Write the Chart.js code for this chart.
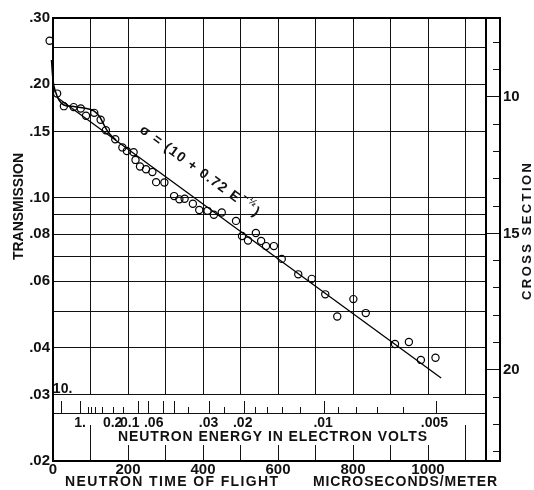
<!DOCTYPE html>
<html><head><meta charset="utf-8">
<script src="https://cdn.jsdelivr.net/npm/chart.js@4.4.1/dist/chart.umd.min.js"></script>
<style>html,body{margin:0;padding:0;background:#fff}</style>
</head><body>
<canvas id="c" width="534" height="490"></canvas>
<script>
// ---- data ----
const flightTime = [-9, 11, 29, 55, 74, 88, 110, 127, 141, 166, 185, 197, 215, 220, 232, 248, 265, 275, 297, 323, 337, 351, 373, 390, 412, 429, 450, 488, 504, 520, 541, 555, 568, 589, 610, 654, 690, 726, 758, 801, 834, 912, 949, 981, 1020];
const transmission = [0.261, 0.189, 0.175, 0.174, 0.1725, 0.165, 0.168, 0.161, 0.151, 0.143, 0.136, 0.133, 0.132, 0.126, 0.121, 0.119, 0.117, 0.110, 0.1097, 0.101, 0.099, 0.0994, 0.0964, 0.0928, 0.0923, 0.0901, 0.0914, 0.0868, 0.0791, 0.0770, 0.0806, 0.0768, 0.0744, 0.0744, 0.0688, 0.0626, 0.0609, 0.0554, 0.0484, 0.0538, 0.0494, 0.0409, 0.0414, 0.0371, 0.0376];
const fitTime = [13, 1035];
const fitTransmission = [0.184, 0.0332];
const curveTime = [-8, -4, 0, 7, 16, 29, 56, 83, 109, 125, 136, 149, 168];
const curveTransmission = [0.2655, 0.232, 0.2053, 0.1908, 0.1817, 0.1763, 0.1746, 0.1730, 0.1700, 0.1638, 0.1560, 0.1485, 0.1423];

const xTickValues = [0, 200, 400, 600, 800, 1000];
const xGridValues = [100, 200, 300, 400, 500, 600, 700, 800, 900, 1000, 1100];
const yTickValues = [0.30, 0.20, 0.15, 0.10, 0.08, 0.06, 0.04, 0.03, 0.02];
const yTickLabels = ['.30', '.20', '.15', '.10', '.08', '.06', '.04', '.03', '.02'];
const yGridValues = [0.30, 0.25, 0.20, 0.15, 0.10, 0.09, 0.08, 0.07, 0.06, 0.05, 0.04, 0.03];
const energyTicks = [10, 1, 0.6, 0.5, 0.4, 0.3, 0.2, 0.15, 0.1, 0.08, 0.06, 0.05, 0.04, 0.03, 0.025, 0.02, 0.018, 0.016, 0.014, 0.012, 0.01, 0.009, 0.008, 0.007, 0.006, 0.005];
const energyMajorTicks = [10, 1, 0.1, 0.08, 0.06, 0.05, 0.03, 0.02, 0.01, 0.005];
const energyLabelValues = [1, 0.2, 0.1, 0.06, 0.03, 0.02, 0.01, 0.005];
const energyLabels = ['1.', '0.2', '0.1', '.06', '.03', '.02', '.01', '.005'];
const sigmaTicks = [8, 9, 10, 11, 12, 13, 14, 15, 16, 17, 18, 19, 20, 21, 22, 23];
const sigmaLabelValues = [10, 15, 20];
const equationText = ['\u03C3 = (10 + 0.72 E', '\u2212\u00BD', ')'];

// ---- constants of the drawing ----
const TOF_SQRT_EV = 72.3;     // microseconds/meter times sqrt(eV)
const plotRightTime = 1155;   // inner right border of the grid
const energyLabelDx = [0, -1, -9, -10, -1, -2, -1, -2];
const INK = '#111';
const FONT = '"Liberation Sans", Arial, sans-serif';

function fitText(ctx, text, x, y, width, font, align) {
  ctx.font = font; ctx.letterSpacing = '0px';
  const w0 = ctx.measureText(text).width;
  const n = [...text].length;
  const sp = n > 1 ? (width - w0) / (n - 1) : 0;
  ctx.letterSpacing = sp + 'px';
  ctx.textAlign = 'left'; ctx.textBaseline = 'middle';
  const x0 = align === 'left' ? x : x - width / 2;
  ctx.fillText(text, x0, y);
  ctx.letterSpacing = '0px';
}

// crisp rules drawn as filled rectangles
function vRule(ctx, x, y1, y2, w) { const ww = w || 1; ctx.fillRect(Math.round(x - ww / 2), Math.min(y1, y2), ww, Math.abs(y2 - y1)); }
function hRule(ctx, y, x1, x2, w) { const ww = w || 1; ctx.fillRect(Math.min(x1, x2), Math.round(y - ww / 2), Math.abs(x2 - x1), ww); }

const paperPlugin = {
  id: 'paper',
  beforeDatasetsDraw(chart) {
    const ctx = chart.ctx;
    const area = chart.chartArea;
    const sx = chart.scales.x, sy = chart.scales.y, ss = chart.scales.y2;
    const top = area.top, bottom = area.bottom, left = area.left, right = area.right;
    ctx.save();
    ctx.fillStyle = INK;
    const xr = Math.round(sx.getPixelForValue(plotRightTime));
    const y03 = Math.round(sy.getPixelForValue(0.03));
    const yBand = y03 + 18;
    for (let i = 0; i < xGridValues.length; i++) {
      const px = sx.getPixelForValue(xGridValues[i]);
      vRule(ctx, px, top, y03);
      const len = (i === 0 || i === xGridValues.length - 1) ? 36 : 16;
      vRule(ctx, px, bottom - len, bottom);
    }
    for (let i = 0; i < yGridValues.length; i++) {
      hRule(ctx, sy.getPixelForValue(yGridValues[i]), left, xr);
    }
    hRule(ctx, yBand, left, xr);
    energyTicks.forEach(E => {
      const px = sx.getPixelForValue(TOF_SQRT_EV / Math.sqrt(E));
      const len = energyMajorTicks.includes(E) ? 12 : 6;
      vRule(ctx, px, yBand - len, yBand);
    });
    sigmaTicks.forEach(s => {
      const py = ss.getPixelForValue(s);
      const len = sigmaLabelValues.includes(s) ? (right - xr) : 7;
      hRule(ctx, py, right - len, right);
    });
    ctx.fillStyle = '#000';
    hRule(ctx, top, left - 1, right + 1, 2);
    hRule(ctx, bottom, left - 1, right + 1, 2);
    vRule(ctx, left, top, bottom, 2);
    vRule(ctx, right, top, bottom, 2);
    vRule(ctx, xr, top, bottom, 2);
    ctx.restore();
  },
  afterDraw(chart) {
    const ctx = chart.ctx;
    const sx = chart.scales.x, sy = chart.scales.y;
    ctx.save();
    ctx.fillStyle = INK;
    const y03 = sy.getPixelForValue(0.03);
    ctx.font = 'bold 14px ' + FONT; ctx.textAlign = 'center'; ctx.textBaseline = 'middle';
    ctx.fillText('10.', sx.getPixelForValue(TOF_SQRT_EV / Math.sqrt(10)) + 1, y03 - 6);
    energyLabelValues.forEach((E, i) => {
      const px = sx.getPixelForValue(TOF_SQRT_EV / Math.sqrt(E)) + energyLabelDx[i];
      ctx.fillText(energyLabels[i], px, y03 + 28);
    });
    fitText(ctx, 'NEUTRON ENERGY IN ELECTRON VOLTS', 118, 437, 309, 'bold 14px ' + FONT, 'left');
    fitText(ctx, 'NEUTRON TIME OF FLIGHT', 65, 482, 213, 'bold 14px ' + FONT, 'left');
    fitText(ctx, 'MICROSECONDS/METER', 313, 482, 184, 'bold 14px ' + FONT, 'left');
    ctx.save(); ctx.translate(19, 206.5); ctx.rotate(-Math.PI / 2);
    fitText(ctx, 'TRANSMISSION', 0, 0, 107, 'bold 14px ' + FONT); ctx.restore();
    ctx.save(); ctx.translate(527, 231.5); ctx.rotate(-Math.PI / 2);
    fitText(ctx, 'CROSS SECTION', 0, 0, 137, 'bold 13px ' + FONT); ctx.restore();
    const p1 = { x: sx.getPixelForValue(fitTime[0]), y: sy.getPixelForValue(fitTransmission[0]) };
    const p2 = { x: sx.getPixelForValue(fitTime[1]), y: sy.getPixelForValue(fitTransmission[1]) };
    const ang = Math.atan2(p2.y - p1.y, p2.x - p1.x);
    const footX = sx.getPixelForValue(353);
    const f = (footX - p1.x) / (p2.x - p1.x);
    const footY = p1.y + f * (p2.y - p1.y);
    const off = 24.5;
    const cx = footX + off * Math.sin(ang), cy = footY - off * Math.cos(ang);
    ctx.translate(cx, cy); ctx.rotate(ang);
    ctx.textAlign = 'left'; ctx.textBaseline = 'middle';
    const mainFont = 'bold 14px ' + FONT, supFont = 'bold 10px ' + FONT;
    ctx.font = mainFont; ctx.letterSpacing = '1.2px';
    const w1 = ctx.measureText(equationText[0]).width;
    ctx.font = supFont; const w2 = ctx.measureText(equationText[1]).width;
    ctx.font = mainFont; const w3 = ctx.measureText(equationText[2]).width;
    let tx = -(w1 + w2 + w3 + 2) / 2;
    ctx.font = mainFont; ctx.fillText(equationText[0], tx, 0); tx += w1 + 1;
    ctx.font = supFont; ctx.fillText(equationText[1], tx, -6); tx += w2 + 1;
    ctx.font = mainFont; ctx.fillText(equationText[2], tx, 0);
    ctx.restore();
  }
};

const toPts = (xs, ys) => xs.map((v, i) => ({ x: v, y: ys[i] }));

new Chart(document.getElementById('c'), {
  type: 'scatter',
  data: {
    datasets: [
      { type: 'line', data: toPts(fitTime, fitTransmission), borderColor: '#000', borderWidth: 1.3, pointRadius: 0, fill: false, order: 3 },
      { type: 'line', data: toPts(curveTime, curveTransmission), borderColor: '#000', borderWidth: 1.5, pointRadius: 0, fill: false, cubicInterpolationMode: 'monotone', clip: false, order: 2 },
      { data: toPts(flightTime, transmission), pointStyle: 'circle', pointRadius: 3.6, pointBorderWidth: 1.2, borderColor: '#000', backgroundColor: 'rgba(0,0,0,0)', clip: false, order: 1 }
    ]
  },
  options: {
    responsive: false, animation: false, devicePixelRatio: 1,
    layout: { padding: { top: 18, left: 0, right: 0, bottom: 0 } },
    plugins: { legend: { display: false }, tooltip: { enabled: false } },
    scales: {
      x: {
        type: 'linear', min: 0, max: 1192,
        grid: { display: false, drawTicks: false }, border: { display: false },
        afterBuildTicks: s => { s.ticks = xTickValues.map(v => ({ value: v })); },
        afterFit: s => { s.height = 29; },
        ticks: { color: INK, font: { family: FONT, size: 15, weight: 'bold' }, padding: 0, maxRotation: 0, autoSkip: false, callback: v => String(v) }
      },
      y: {
        type: 'logarithmic', position: 'left', min: 0.02, max: 0.30,
        grid: { display: false, drawTicks: false }, border: { display: false },
        afterBuildTicks: s => { s.ticks = yTickValues.map(v => ({ value: v })); },
        afterFit: s => { s.width = 53; },
        ticks: { color: INK, font: { family: FONT, size: 15, weight: 'bold' }, padding: 3, autoSkip: false,
          callback: v => { const i = yTickValues.findIndex(t => Math.abs(t - v) < 1e-9); return i >= 0 ? yTickLabels[i] : ''; } }
      },
      y2: {
        type: 'linear', position: 'right', reverse: true, min: 7.106, max: 23.34,
        grid: { display: false, drawTicks: false }, border: { display: false },
        afterBuildTicks: s => { s.ticks = sigmaLabelValues.map(v => ({ value: v })); },
        afterFit: s => { s.width = 34; },
        ticks: { color: INK, font: { family: FONT, size: 15, weight: 'bold' }, padding: 3, autoSkip: false, callback: v => String(v) }
      }
    }
  },
  plugins: [paperPlugin]
});
</script>
</body></html>
